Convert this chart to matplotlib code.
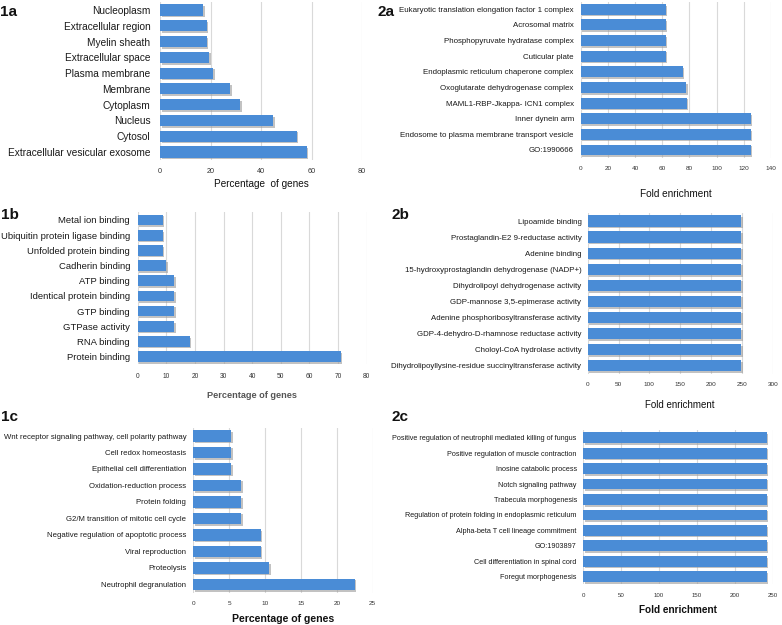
import matplotlib
matplotlib.use("Agg")
import matplotlib.pyplot as plt
import matplotlib.patheffects as pe

plt.rcParams['font.family'] = ['Liberation Sans', 'DejaVu Sans']

# ---------------- data ----------------
cat_1a = ["Nucleoplasm", "Extracellular region", "Myelin sheath", "Extracellular space",
          "Plasma membrane", "Membrane", "Cytoplasm", "Nucleus", "Cytosol",
          "Extracellular vesicular exosome"]
val_1a = [17.0, 18.5, 18.5, 19.5, 21.1, 27.7, 31.7, 44.9, 54.1, 58.1]
ticks_1a = [0, 20, 40, 60, 80]

cat_2a = ["Eukaryotic translation elongation factor 1 complex", "Acrosomal matrix",
          "Phosphopyruvate hydratase complex", "Cuticular plate",
          "Endoplasmic reticulum chaperone complex", "Oxoglutarate dehydrogenase complex",
          "MAML1-RBP-Jkappa- ICN1 complex", "Inner dynein arm",
          "Endosome to plasma membrane transport vesicle", "GO:1990666"]
val_2a = [62.5, 62.5, 62.5, 62.5, 75.0, 77.5, 78.0, 125.0, 125.0, 125.0]
ticks_2a = [0, 20, 40, 60, 80, 100, 120, 140]

cat_1b = ["Metal ion binding", "Ubiquitin protein ligase binding", "Unfolded protein binding",
          "Cadherin binding", "ATP binding", "Identical protein binding", "GTP binding",
          "GTPase activity", "RNA binding", "Protein binding"]
val_1b = [8.7, 8.7, 8.7, 9.9, 12.7, 12.7, 12.7, 12.7, 18.2, 70.9]
ticks_1b = [0, 10, 20, 30, 40, 50, 60, 70, 80]

cat_2b = ["Lipoamide binding", "Prostaglandin-E2 9-reductase activity", "Adenine binding",
          "15-hydroxyprostaglandin dehydrogenase (NADP+)", "Dihydrolipoyl dehydrogenase activity",
          "GDP-mannose 3,5-epimerase activity", "Adenine phosphoribosyltransferase activity",
          "GDP-4-dehydro-D-rhamnose reductase activity", "Choloyl-CoA hydrolase activity",
          "Dihydrolipoyllysine-residue succinyltransferase activity"]
val_2b = [249, 249, 249, 249, 249, 249, 249, 249, 249, 249]
ticks_2b = [0, 50, 100, 150, 200, 250, 300]

cat_1c = ["Wnt receptor signaling pathway, cell polarity pathway", "Cell redox homeostasis",
          "Epithelial cell differentiation", "Oxidation-reduction process", "Protein folding",
          "G2/M transition of mitotic cell cycle", "Negative regulation of apoptotic process",
          "Viral reproduction", "Proteolysis", "Neutrophil degranulation"]
val_1c = [5.3, 5.3, 5.3, 6.7, 6.7, 6.7, 9.4, 9.4, 10.6, 22.5]
ticks_1c = [0, 5, 10, 15, 20, 25]

cat_2c = ["Positive regulation of neutrophil mediated killing of fungus",
          "Positive regulation of muscle contraction", "Inosine catabolic process",
          "Notch signaling pathway", "Trabecula morphogenesis",
          "Regulation of protein folding in endoplasmic reticulum",
          "Alpha-beta T cell lineage commitment", "GO:1903897",
          "Cell differentiation in spinal cord", "Foregut morphogenesis"]
val_2c = [242, 242, 242, 242, 242, 242, 242, 242, 242, 242]
ticks_2c = [0, 50, 100, 150, 200, 250]

# ---------------- layout ----------------
W, H = 782, 625
fig = plt.figure(figsize=(W / 100, H / 100), dpi=100)

def rect(x0, x1, ytop, ybot):
    return [x0 / W, 1 - ybot / H, (x1 - x0) / W, (ybot - ytop) / H]

BAR = "#4a8cd6"

def panel(r, cats, vals, ticks, xlabel, lab_fs, tick_fs, xl_fs, xl_weight, xl_color,
          xl_pad, ypad):
    ax = fig.add_axes(r)
    y = list(range(len(cats)))
    bars = ax.barh(y, vals, height=0.7, color=BAR, zorder=3)
    for b in bars:
        b.set_path_effects([pe.SimplePatchShadow(offset=(1.2, -1.2), shadow_rgbFace="#9a9a9a",
                                                 alpha=0.6), pe.Normal()])
    ax.set_xlim(ticks[0], ticks[-1])
    ax.set_ylim(len(cats) - 0.5, -0.5)
    ax.set_yticks(y)
    ax.set_yticklabels(cats, fontsize=lab_fs, color="#1a1a1a")
    ax.set_xticks(ticks)
    ax.set_xticklabels([str(t) for t in ticks], fontsize=tick_fs, color="#333333")
    ax.tick_params(axis="both", length=0)
    ax.tick_params(axis="y", pad=ypad)
    ax.tick_params(axis="x", pad=6)
    for s in ax.spines.values():
        s.set_visible(False)
    ax.grid(axis="x", color="#d9d9d9", linewidth=0.8, zorder=0)
    ax.set_xlabel(xlabel, fontsize=xl_fs, fontweight=xl_weight, color=xl_color,
                  labelpad=xl_pad)
    return ax

panel(rect(160, 362, 2.1, 159.9), cat_1a, val_1a, ticks_1a, "Percentage  of genes",
      7.25, 5.2, 7.2, "normal", "#111111", 3, 7)
panel(rect(580.7, 771, 1.5, 157.8), cat_2a, val_2a, ticks_2a, "Fold enrichment",
      5.7, 4.6, 7.2, "normal", "#111111", 13, 5)
panel(rect(137.7, 366.7, 212.4, 364.3), cat_1b, val_1b, ticks_1b, "Percentage of genes",
      6.8, 4.8, 6.6, "bold", "#555555", 8, 5.5)
panel(rect(587.7, 772.7, 213, 373.7), cat_2b, val_2b, ticks_2b, "Fold enrichment",
      5.7, 4.6, 7.0, "normal", "#111111", 9, 4.5)
panel(rect(193.3, 372.7, 427.8, 592.5), cat_1c, val_1c, ticks_1c, "Percentage of genes",
      5.6, 4.6, 7.6, "bold", "#111111", 6, 5)
panel(rect(583, 772.7, 430, 584.4), cat_2c, val_2c, ticks_2c, "Fold enrichment",
      5.25, 4.4, 7.2, "bold", "#111111", 5, 4.5)

for txt, x, yy in [("1a", 0, 12), ("2a", 377, 12), ("1b", 1, 215), ("2b", 392, 215),
                   ("1c", 1, 417), ("2c", 392, 417)]:
    fig.text(x / W, 1 - yy / H, txt, fontsize=11, fontweight="bold", va="center",
             ha="left", color="#111111")

fig.savefig("out.png", dpi=100, facecolor="white")
